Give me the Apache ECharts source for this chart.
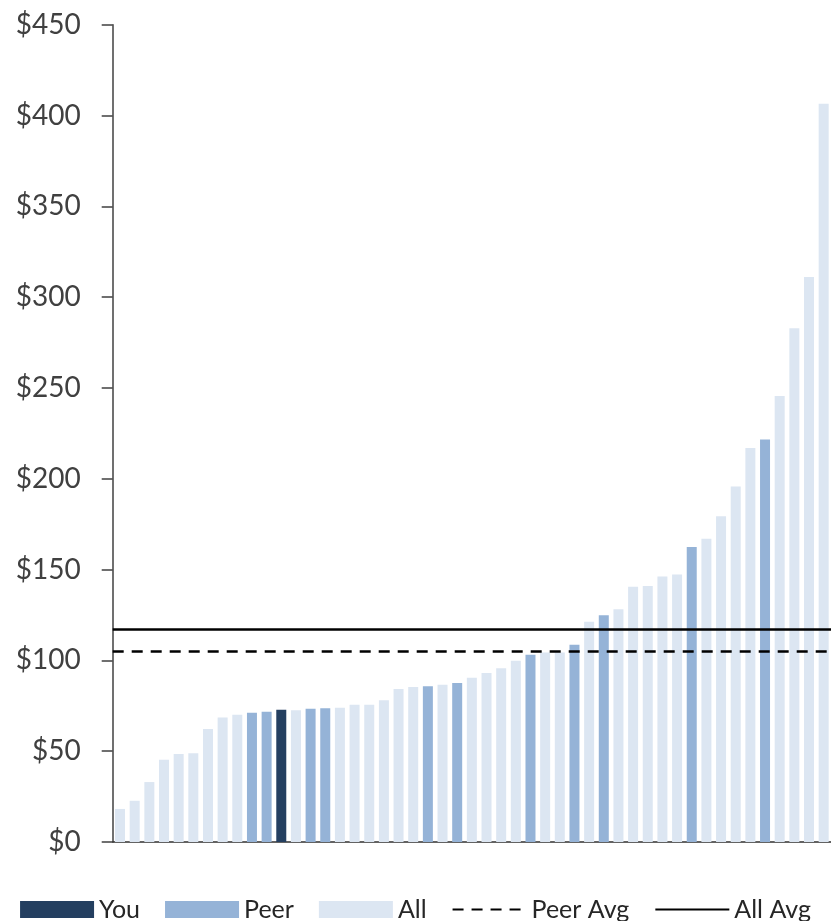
<!DOCTYPE html>
<html>
<head>
<meta charset="utf-8">
<script src="https://cdn.jsdelivr.net/npm/echarts@6/dist/echarts.min.js"></script>
<style>
html,body{margin:0;padding:0;background:#fff;}
#chart{width:831px;height:921px;}
</style>
</head>
<body>
<div id="chart"></div>
<script>
// ---- data ----
const values = [18.2, 22.7, 33, 45.3, 48.4, 48.8, 62.2, 68.6, 70, 71.2,
  71.7, 72.8, 72.6, 73.4, 73.6, 73.9, 75.6, 75.6, 78.1, 84.2,
  85.3, 85.7, 86.6, 87.5, 90.4, 93, 95.6, 99.8, 103.1, 104.4,
  104.4, 108.6, 121.2, 124.9, 128.1, 140.5, 140.9, 146.2, 147.3, 162.4,
  166.9, 179.3, 195.8, 217, 221.6, 245.5, 282.9, 311.1, 406.5];
const groups = ['All','All','All','All','All','All','All','All','All','Peer',
  'Peer','You','All','Peer','Peer','All','All','All','All','All',
  'All','Peer','All','Peer','All','All','All','All','Peer','All',
  'All','Peer','All','Peer','All','All','All','All','All','Peer',
  'All','All','All','All','Peer','All','All','All','All'];
const peerAvg = 105;
const allAvg = 117;
const yTicks = [0, 50, 100, 150, 200, 250, 300, 350, 400, 450];

const categories = values.map((v, i) => String(i + 1));
const colors = { You: '#243F60', Peer: '#95B3D7', All: '#DCE6F2' };
const fontFam = 'Lato, "Open Sans", sans-serif';

function barSeries(name) {
  return {
    name: name,
    type: 'bar',
    stack: 'bars',
    barWidth: 10,
    itemStyle: { color: colors[name] },
    data: values.map((v, i) => groups[i] === name ? v : '-'),
    animation: false
  };
}

const chart = echarts.init(document.getElementById('chart'));
chart.setOption({
  animation: false,
  grid: { left: 112.7, right: -8, top: 24.7, bottom: 79, containLabel: false },
  xAxis: {
    type: 'category',
    data: categories,
    axisLine: { show: true, lineStyle: { color: '#303030', width: 1.5 } },
    axisTick: { show: false },
    axisLabel: { show: false },
    splitLine: { show: false }
  },
  yAxis: {
    type: 'value',
    min: yTicks[0],
    max: yTicks[yTicks.length - 1],
    interval: yTicks[1] - yTicks[0],
    axisLine: { show: true, lineStyle: { color: '#404040', width: 1.5 } },
    axisTick: { show: true, length: 11, lineStyle: { color: '#404040', width: 1.5 } },
    splitLine: { show: false },
    axisLabel: {
      margin: 32,
      color: '#404040',
      fontFamily: fontFam,
      fontSize: 28,
      formatter: v => '$' + v
    }
  },
  legend: {
    top: 897,
    left: 'center',
    padding: 0,
    itemWidth: 74,
    itemHeight: 17,
    itemGap: 25,
    textStyle: { fontFamily: fontFam, fontSize: 25, color: '#262626' },
    data: [
      { name: 'You', icon: 'rect' },
      { name: 'Peer', icon: 'rect' },
      { name: 'All', icon: 'rect' },
      { name: 'Peer Avg', itemStyle: { opacity: 0 } },
      { name: 'All Avg', itemStyle: { opacity: 0 } }
    ]
  },
  series: [
    barSeries('You'),
    barSeries('Peer'),
    barSeries('All'),
    {
      name: 'Peer Avg',
      type: 'line',
      symbol: 'none',
      showSymbol: false,
      lineStyle: { color: '#000', width: 2.5, type: [11, 8] },
      itemStyle: { color: '#000' },
      data: [],
      markLine: {
        silent: true,
        symbol: ['none', 'none'],
        label: { show: false },
        lineStyle: { color: '#000', width: 2.5, type: [11, 8] },
        data: [{ yAxis: peerAvg }]
      }
    },
    {
      name: 'All Avg',
      type: 'line',
      symbol: 'none',
      showSymbol: false,
      lineStyle: { color: '#000', width: 2.5, type: 'solid' },
      itemStyle: { color: '#000' },
      data: [],
      markLine: {
        silent: true,
        symbol: ['none', 'none'],
        label: { show: false },
        lineStyle: { color: '#000', width: 2.5, type: 'solid' },
        data: [{ yAxis: allAvg }]
      }
    }
  ]
});
</script>
</body>
</html>
